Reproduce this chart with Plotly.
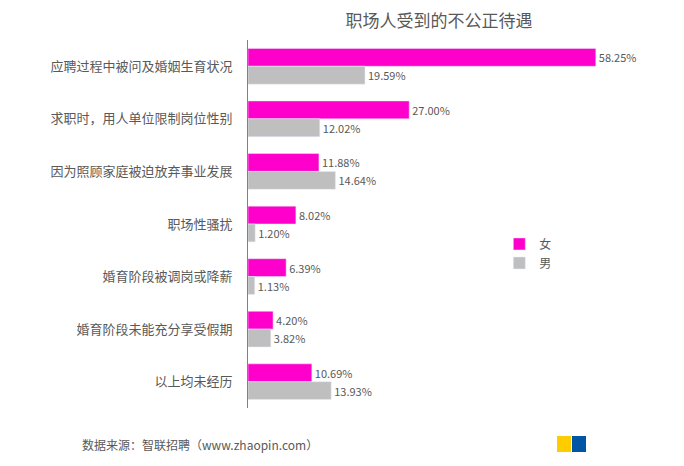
import plotly.graph_objects as go

categories = ["应聘过程中被问及婚姻生育状况", "求职时，用人单位限制岗位性别", "因为照顾家庭被迫放弃事业发展",
              "职场性骚扰", "婚育阶段被调岗或降薪", "婚育阶段未能充分享受假期", "以上均未经历"]
female = [58.25, 27.00, 11.88, 8.02, 6.39, 4.20, 10.69]
male = [19.59, 12.02, 14.64, 1.20, 1.13, 3.82, 13.93]

font = "Noto Sans CJK SC"
fig = go.Figure()
fig.add_trace(go.Bar(y=categories, x=female, orientation="h", name="女", marker_color="#FF00CC",
                     text=[f"{v:.2f}%" for v in female], textposition="outside",
                     textfont=dict(color="#595959", size=11), cliponaxis=False))
fig.add_trace(go.Bar(y=categories, x=male, orientation="h", name="男", marker_color="#BFBFBF",
                     text=[f"{v:.2f}%" for v in male], textposition="outside",
                     textfont=dict(color="#595959", size=11), cliponaxis=False))
fig.update_layout(
    width=684, height=466, barmode="group", bargap=0.32, bargroupgap=0,
    margin=dict(l=240, r=32, t=32, b=66, autoexpand=False),
    paper_bgcolor="white", plot_bgcolor="white",
    font=dict(family=font, color="#595959", size=13),
    title=dict(text="职场人受到的不公正待遇", x=0.63, y=0.985, xanchor="center",
               font=dict(size=17, color="#595959")),
    xaxis=dict(range=[0, 69], visible=False),
    yaxis=dict(autorange="reversed", showline=True, linecolor="#808080", linewidth=1,
               ticks="", ticklabelstandoff=12, showgrid=False, automargin=False),
    legend=dict(x=0.61, y=0.42, xanchor="left", yanchor="middle", font=dict(size=12),
                bgcolor="rgba(0,0,0,0)", tracegroupgap=0, itemwidth=30),
    showlegend=True,
)
fig.add_annotation(text="数据来源：智联招聘（www.zhaopin.com）", xref="paper", yref="paper",
                   x=-168/412, y=-0.07, xanchor="left", yanchor="top", showarrow=False,
                   font=dict(size=12, color="#595959"))
fig.add_shape(type="rect", xref="paper", yref="paper", x0=(557-248)/412, x1=(571-248)/412,
              y0=-(452-408)/368, y1=-(436-408)/368, fillcolor="#FFCC00", line_width=0)
fig.add_shape(type="rect", xref="paper", yref="paper", x0=(572-248)/412, x1=(586-248)/412,
              y0=-(452-408)/368, y1=-(436-408)/368, fillcolor="#0055A5", line_width=0)
fig.write_html("out.html")
